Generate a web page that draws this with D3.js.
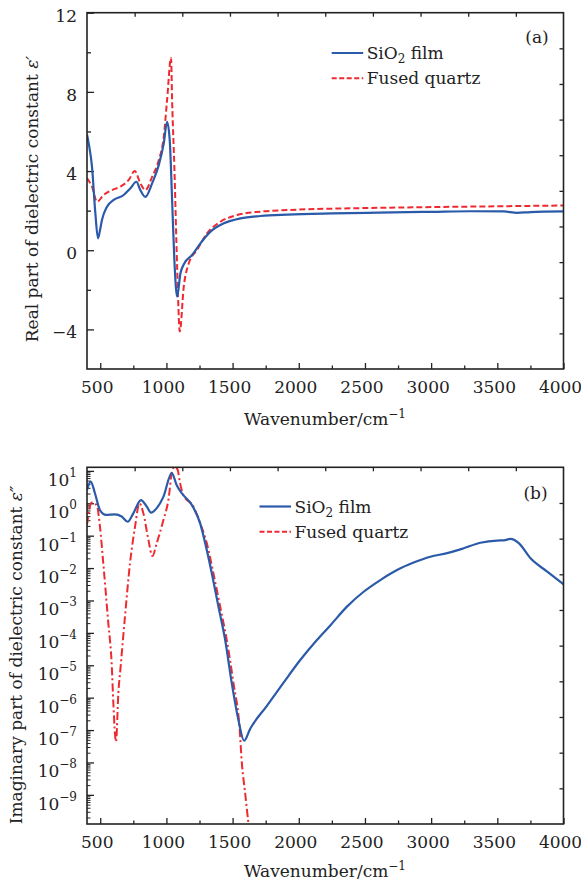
<!DOCTYPE html>
<html>
<head>
<meta charset="utf-8">
<script src="https://cdn.jsdelivr.net/npm/d3@7"></script>
<style>
body { margin: 0; background: #fff; }
text { font-family: "DejaVu Serif", serif; fill: #222; }
</style>
</head>
<body>
<div id="chart"></div>
<script>
// (a) real part, SiO2 film
var film_re_wn = [400, 413, 438, 463, 483, 498, 513, 551, 602, 677, 728, 773, 803, 841, 892, 942, 980, 1005, 1025, 1043, 1060, 1081, 1106, 1136, 1194, 1257, 1333, 1434, 1560, 1711, 1913, 2250, 2600, 3000, 3300, 3550, 3650, 3750, 4000];
var film_re = [5.85, 5.4, 4.2, 1.87, 0.6, 1.0, 1.53, 2.2, 2.54, 2.79, 3.13, 3.46, 3.04, 2.70, 3.38, 4.3, 5.4, 6.49, 5.56, 2.54, -0.49, -2.34, -1.16, -0.66, -0.24, 0.35, 0.94, 1.36, 1.61, 1.73, 1.80, 1.86, 1.9, 1.94, 1.97, 1.96, 1.89, 1.93, 1.96];

// (a) real part, fused quartz
var quartz_re_wn = [400, 438, 476, 526, 589, 652, 715, 761, 803, 841, 892, 942, 980, 1005, 1035, 1043, 1060, 1081, 1101, 1131, 1169, 1232, 1308, 1408, 1534, 1711, 1913, 2500, 3000, 3500, 4000];
var quartz_re = [3.63, 3.21, 2.45, 2.79, 3.04, 3.21, 3.55, 4.0, 3.38, 3.04, 3.71, 4.55, 5.73, 7.58, 9.73, 7.58, 4.2, -0.83, -4.1, -1.84, -0.66, 0.02, 0.86, 1.44, 1.78, 1.95, 2.03, 2.13, 2.18, 2.22, 2.26];

// (b) imaginary part, SiO2 film
var film_im_wn = [400, 428, 460, 498, 544, 612, 662, 708, 750, 808, 852, 884, 927, 977, 1040, 1078, 1116, 1192, 1255, 1293, 1343, 1393, 1444, 1494, 1544, 1587, 1633, 1759, 1885, 2011, 2137, 2238, 2364, 2490, 2616, 2742, 2868, 2994, 3121, 3246, 3372, 3498, 3550, 3599, 3662, 3751, 3877, 4000];
var film_im = [2.57, 4.68, 2.04, 0.617, 0.437, 0.457, 0.389, 0.269, 0.49, 1.26, 0.79, 0.513, 0.708, 1.58, 8.51, 3.63, 2.04, 0.89, 0.24, 0.0589, 6.92e-3, 6.46e-4, 6.03e-5, 2.75e-6, 2.04e-7, 4.68e-8, 1.1e-7, 5.6e-7, 2.9e-6, 1.45e-5, 6.03e-5, 1.70e-4, 6.46e-4, 1.86e-3, 4.27e-3, 8.7e-3, 0.0148, 0.0224, 0.0288, 0.0407, 0.0603, 0.0708, 0.0715, 0.0794, 0.0589, 0.02, 7.76e-3, 3.16e-3];

// (b) imaginary part, fused quartz
var quartz_im_wn = [400, 435, 473, 498, 523, 561, 587, 599, 619, 637, 655, 687, 725, 763, 796, 826, 864, 894, 927, 977, 1015, 1045, 1065, 1085, 1103, 1128, 1204, 1255, 1305, 1355, 1406, 1456, 1507, 1552, 1570, 1595, 1620, 1650];
var quartz_im = [0.214, 1.05, 0.89, 0.19, 0.0141, 2.0e-4, 1.0e-5, 6.8e-7, 4.4e-8, 1.4e-6, 1.0e-5, 3.2e-4, 0.0141, 0.19, 1.0, 0.49, 0.074, 0.0234, 0.059, 0.30, 1.26, 10.7, 13.5, 10.7, 4.2, 1.8, 0.79, 0.24, 0.059, 6.9e-3, 6.5e-4, 6.0e-5, 2.75e-6, 1.26e-7, 9.5e-9, 1.12e-9, 1.3e-10, 1.6e-11];

// ticks
var x_ticks = [500, 1000, 1500, 2000, 2500, 3000, 3500, 4000];
var x_minor = [750, 1250, 1750, 2250, 2750, 3250, 3750];
var re_ticks = [-4, 0, 4, 8, 12];
var re_minor = [-2, 2, 6, 10];
var im_ticks = [1e1, 1e0, 1e-1, 1e-2, 1e-3, 1e-4, 1e-5, 1e-6, 1e-7, 1e-8, 1e-9];
var im_labels = ["1", "0", "\u22121", "\u22122", "\u22123", "\u22124", "\u22125", "\u22126", "\u22127", "\u22128", "\u22129"];
var series_names = ["SiO", "Fused quartz"];

var chart_width = 581,
	chart_height = 883,
	left = 87,
	right = 563.5,
	blue = "#2a5aa8",
	red = "#ee2a30";

var svg = d3.select("#chart")
	.append("svg")
		.attr("width", chart_width)
		.attr("height", chart_height);

var x_scale = d3.scaleLinear()
	.domain([400, 4000])
	.range([left, right]);

function zip(a, b) {
	return a.map(function(d, i) { return [d, b[i]]; });
}

// one panel: clip, x ticks, mirrored ticks
function panel(top, bottom, id) {
	var g = svg.append("g");

	g.append("clipPath")
		.attr("id", id)
		.append("rect")
		.attr("x", left)
		.attr("y", top)
		.attr("width", right - left)
		.attr("height", bottom - top);

	g.append("g")
		.attr("transform", "translate(0," + bottom + ")")
		.call(d3.axisBottom(x_scale).tickValues(x_ticks).tickSize(-6).tickSizeOuter(0).tickPadding(10)
			.tickFormat(d3.format("d")))
		.call(function(a) {
			a.select(".domain").remove();
			a.selectAll("text").attr("font-size", 17).attr("dx", -3.5).attr("dy", "0.85em");
			a.selectAll("line").attr("stroke", "#222").attr("stroke-width", 1.3);
		});
	g.append("g")
		.attr("transform", "translate(0," + bottom + ")")
		.call(d3.axisBottom(x_scale).tickValues(x_minor).tickSize(-3.5).tickSizeOuter(0).tickFormat(""))
		.call(function(a) {
			a.select(".domain").remove();
			a.selectAll("line").attr("stroke", "#222").attr("stroke-width", 1.3);
		});

	// top and right sides: 9 unlabeled ticks each
	var div_x = d3.scaleLinear().domain([0, 10]).range([left, right]);
	var div_y = d3.scaleLinear().domain([0, 10]).range([top, bottom]);
	g.append("g")
		.attr("transform", "translate(0," + top + ")")
		.call(d3.axisTop(div_x).tickValues(d3.range(1, 10)).tickSize(-4).tickSizeOuter(0).tickFormat(""))
		.call(function(a) {
			a.select(".domain").remove();
			a.selectAll("line").attr("stroke", "#222").attr("stroke-width", 1.3);
		});
	g.append("g")
		.attr("transform", "translate(" + right + ",0)")
		.call(d3.axisRight(div_y).tickValues(d3.range(1, 10)).tickSize(-4).tickSizeOuter(0).tickFormat(""))
		.call(function(a) {
			a.select(".domain").remove();
			a.selectAll("line").attr("stroke", "#222").attr("stroke-width", 1.3);
		});

	return g;
}

// ---------- (a) ----------
var ya = d3.scaleLinear()
	.domain([-6, 12])
	.range([369, 12.7]);

var ga = panel(12.7, 369, "clip_a");

ga.append("g")
	.attr("transform", "translate(" + left + ",0)")
	.call(d3.axisLeft(ya).tickValues(re_ticks).tickSize(-7).tickSizeOuter(0).tickPadding(10)
		.tickFormat(function(d) { return d < 0 ? "\u2212" + Math.abs(d) : d; }))
	.call(function(a) {
		a.select(".domain").remove();
		a.selectAll("text").attr("font-size", 17).attr("dy", "0.5em");
		a.selectAll("line").attr("stroke", "#222").attr("stroke-width", 1.3);
	});
ga.append("g")
	.attr("transform", "translate(" + left + ",0)")
	.call(d3.axisLeft(ya).tickValues(re_minor).tickSize(-4).tickSizeOuter(0).tickFormat(""))
	.call(function(a) {
		a.select(".domain").remove();
		a.selectAll("line").attr("stroke", "#222").attr("stroke-width", 1.3);
	});

var line_a = d3.line()
	.x(function(d) { return x_scale(d[0]); })
	.y(function(d) { return ya(d[1]); })
	.curve(d3.curveMonotoneX);

ga.append("path")
	.attr("clip-path", "url(#clip_a)")
	.attr("d", line_a(zip(quartz_re_wn, quartz_re)))
	.attr("fill", "none")
	.attr("stroke", red)
	.attr("stroke-width", 2)
	.attr("stroke-dasharray", "6,3");

ga.append("path")
	.attr("clip-path", "url(#clip_a)")
	.attr("d", line_a(zip(film_re_wn, film_re)))
	.attr("fill", "none")
	.attr("stroke", blue)
	.attr("stroke-width", 2.2);

ga.append("rect")
	.attr("x", left)
	.attr("y", 12.7)
	.attr("width", right - left)
	.attr("height", 369 - 12.7)
	.attr("fill", "none")
	.attr("stroke", "#222")
	.attr("stroke-width", 1.6);

// ---------- (b) ----------
var yb = d3.scaleLog()
	.domain([1.26e-10, 12.9])
	.range([824, 467.3]);

var gb = panel(467.3, 824, "clip_b");

// minor log ticks, 2..9 in each decade
var im_minor = [];
for (var e = -10; e <= 1; e++) {
	for (var k = 2; k <= 9; k++) {
		var v = k * Math.pow(10, e);
		if (v > 1.26e-10 && v < 12.9) im_minor.push(v);
	}
}

gb.append("g")
	.attr("transform", "translate(" + left + ",0)")
	.call(d3.axisLeft(yb).tickValues(im_ticks).tickSize(-7).tickSizeOuter(0).tickPadding(10)
		.tickFormat(function() { return "10"; }))
	.call(function(a) {
		a.select(".domain").remove();
		a.selectAll("text")
			.attr("font-size", 17)
			.attr("dy", "0.85em")
			.append("tspan")
			.attr("font-size", 12)
			.attr("dy", "-0.75em")
			.text(function(d, i) { return im_labels[i]; });
		a.selectAll("line").attr("stroke", "#222").attr("stroke-width", 1.3);
	});
gb.append("g")
	.attr("transform", "translate(" + left + ",0)")
	.call(d3.axisLeft(yb).tickValues(im_minor).tickSize(-3.5).tickSizeOuter(0).tickFormat(""))
	.call(function(a) {
		a.select(".domain").remove();
		a.selectAll("line").attr("stroke", "#222").attr("stroke-width", 1);
	});

var line_b = d3.line()
	.x(function(d) { return x_scale(d[0]); })
	.y(function(d) { return yb(d[1]); })
	.curve(d3.curveMonotoneX);

gb.append("path")
	.attr("clip-path", "url(#clip_b)")
	.attr("d", line_b(zip(quartz_im_wn, quartz_im)))
	.attr("fill", "none")
	.attr("stroke", red)
	.attr("stroke-width", 2)
	.attr("stroke-dasharray", "8,3,2,3");

gb.append("path")
	.attr("clip-path", "url(#clip_b)")
	.attr("d", line_b(zip(film_im_wn, film_im)))
	.attr("fill", "none")
	.attr("stroke", blue)
	.attr("stroke-width", 2.2);

gb.append("rect")
	.attr("x", left)
	.attr("y", 467.3)
	.attr("width", right - left)
	.attr("height", 824 - 467.3)
	.attr("fill", "none")
	.attr("stroke", "#222")
	.attr("stroke-width", 1.6);

// ---------- legends, labels ----------
function legend(g, lx, ly, dash) {
	g.append("line")
		.attr("x1", lx).attr("x2", lx + 31.5)
		.attr("y1", ly).attr("y2", ly)
		.attr("stroke", blue).attr("stroke-width", 2.2);
	g.append("line")
		.attr("x1", lx).attr("x2", lx + 31.5)
		.attr("y1", ly + 25.3).attr("y2", ly + 25.3)
		.attr("stroke", red).attr("stroke-width", 2)
		.attr("stroke-dasharray", dash);
	var t = g.append("text")
		.attr("x", lx + 35)
		.attr("y", ly + 6)
		.attr("font-size", 17)
		.text(series_names[0]);
	t.append("tspan").attr("font-size", 12).attr("dy", 4).text("2");
	t.append("tspan").attr("dy", -4).text(" film");
	g.append("text")
		.attr("x", lx + 35)
		.attr("y", ly + 31.3)
		.attr("font-size", 17)
		.text(series_names[1]);
}

legend(ga, 331.7, 53, "5,2.5");
legend(gb, 259.5, 506.5, "5,2.5");

ga.append("text")
	.attr("x", 537).attr("y", 42.5)
	.attr("font-size", 17)
	.attr("text-anchor", "middle")
	.text("(a)");
gb.append("text")
	.attr("x", 535.5).attr("y", 499)
	.attr("font-size", 17)
	.attr("text-anchor", "middle")
	.text("(b)");

function x_title(y) {
	var t = svg.append("text")
		.attr("x", 325)
		.attr("y", y)
		.attr("font-size", 17)
		.attr("text-anchor", "middle")
		.text("Wavenumber/cm");
	t.append("tspan").attr("font-size", 12).attr("dy", -7).text("\u22121");
}
x_title(425);
x_title(877);

var ta = svg.append("text")
	.attr("transform", "translate(38,199) rotate(-90)")
	.attr("font-size", 17)
	.attr("text-anchor", "middle")
	.text("Real part of dielectric constant ");
ta.append("tspan").attr("font-style", "italic").text("\u03b5\u2032");

var tb = svg.append("text")
	.attr("transform", "translate(22,655) rotate(-90)")
	.attr("font-size", 17)
	.attr("text-anchor", "middle")
	.text("Imaginary part of dielectric constant ");
tb.append("tspan").attr("font-style", "italic").text("\u03b5\u2033");
</script>
</body>
</html>
